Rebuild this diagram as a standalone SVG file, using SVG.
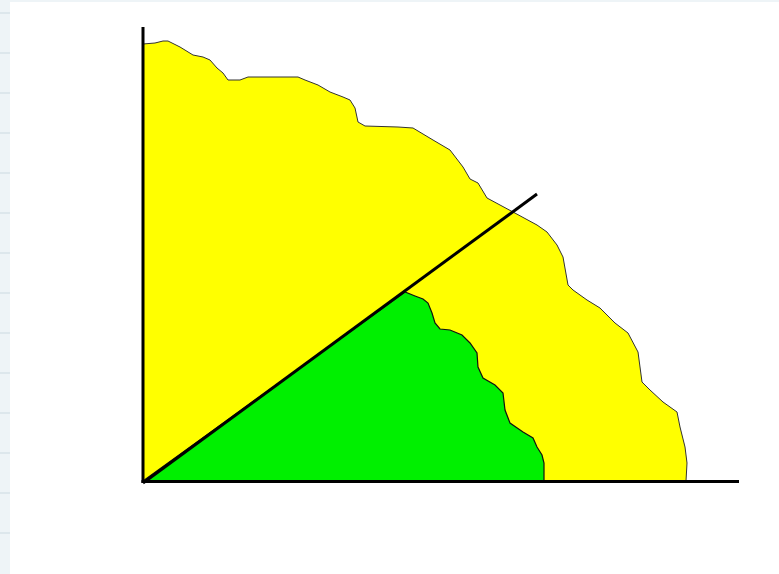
<svg xmlns="http://www.w3.org/2000/svg" width="779" height="574" viewBox="0 0 779 574">
<style>
.axis{stroke:#000;stroke-width:3;fill:none;stroke-linecap:butt}
.yellow{fill:#ffff00;stroke:#333;stroke-width:1}
.green{fill:#00f000;stroke:#111;stroke-width:1.2}
.tick{stroke:#dde7ec;stroke-width:2}
</style>
<rect width="779" height="574" fill="#fff"/>
<g id="margin">
<rect x="0" y="0" width="10" height="574" fill="#eef4f7"/>
<rect x="0" y="0" width="779" height="2" fill="#eef4f7"/>
<path class="tick" d="M0 13h10M0 53h10M0 93h10M0 133h10M0 173h10M0 213h10M0 253h10M0 293h10M0 333h10M0 373h10M0 413h10M0 453h10M0 493h10M0 533h10"/>
</g>
<g id="yellow-region">
<path class="yellow" d="M143 481 L143 44 L155 43 L163 41 L168 41 L180 47 L193 55 L203 57 L210 60 L217 68 L223 73 L228 80 L240 80 L248 77 L298 77 L305 80 L318 85 L330 92 L343 97 L350 100 L355 108 L358 122 L365 126 L398 127 L413 128 L433 140 L450 150 L463 167 L470 179 L478 183 L487 198 L500 205 L513 212 L537 225 L547 232 L557 245 L563 257 L568 285 L573 290 L587 300 L600 308 L615 323 L628 333 L638 352 L642 382 L650 390 L663 402 L677 412 L680 427 L685 447 L687 463 L686 481 Z"/>
</g>
<g id="green-region">
<path class="green" d="M143 481 L405 292 L415 296 L423 299 L428 303 L432 313 L435 323 L440 329 L450 330 L462 335 L470 343 L477 353 L478 367 L483 378 L495 385 L503 393 L505 410 L510 423 L523 432 L533 438 L537 447 L542 455 L544 463 L544 481 Z"/>
</g>
<g id="connectors">
<line class="axis" x1="143" y1="27" x2="143" y2="483"/>
<line class="axis" x1="141.5" y1="481.5" x2="739" y2="481.5"/>
<line class="axis" x1="143" y1="483" x2="537" y2="194" stroke-width="2.5"/>
</g>
</svg>
